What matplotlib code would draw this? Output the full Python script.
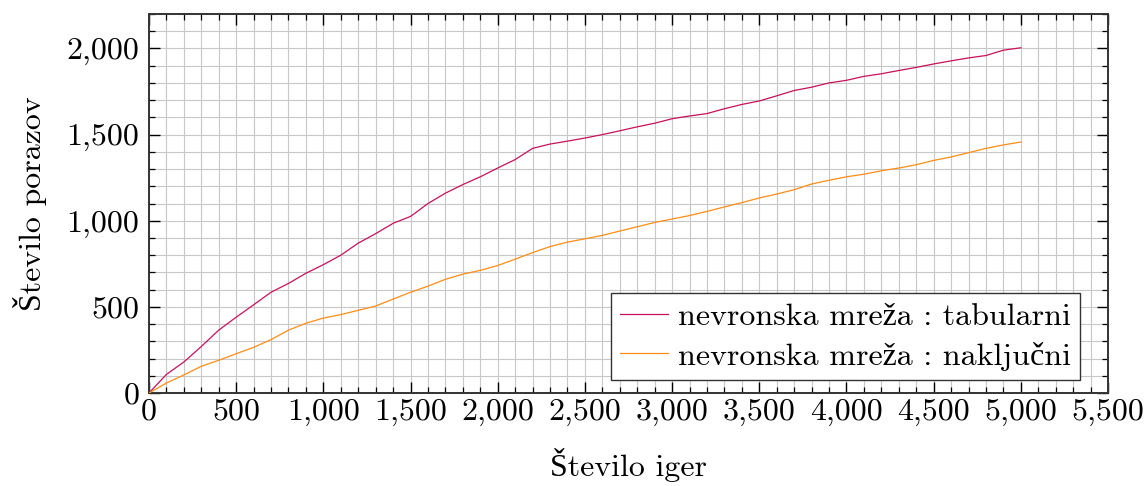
import matplotlib
matplotlib.use("Agg")
import matplotlib.pyplot as plt
from matplotlib.ticker import MultipleLocator, FuncFormatter

plt.rcParams['font.family'] = ['cmr10', 'Liberation Serif', 'DejaVu Serif']
plt.rcParams['mathtext.fontset'] = 'cm'
plt.rcParams['axes.formatter.use_mathtext'] = True

games = list(range(0, 5001, 100))
tabularni = [0, 108, 180, 270, 365, 440, 512, 585, 636, 695,
             745, 800, 870, 925, 985, 1025, 1100, 1160, 1210, 1255,
             1306, 1355, 1420, 1445, 1462, 1480, 1500, 1522, 1545, 1566,
             1592, 1608, 1622, 1650, 1675, 1695, 1725, 1756, 1775, 1800,
             1815, 1838, 1853, 1872, 1890, 1910, 1928, 1945, 1959, 1990,
             2004]
nakljucni = [0, 58, 105, 155, 190, 228, 265, 310, 365, 405,
             435, 455, 480, 505, 545, 585, 620, 660, 690, 712,
             740, 777, 815, 850, 876, 895, 915, 940, 965, 990,
             1010, 1030, 1054, 1080, 1105, 1132, 1155, 1180, 1213, 1235,
             1255, 1270, 1290, 1306, 1325, 1350, 1370, 1395, 1420, 1440,
             1457]
labels = ['nevronska mreža : tabularni',
          'nevronska mreža : naključni']
colors = ['#c8105c', '#ff8c14']

fig = plt.figure(figsize=(11.46, 4.86), dpi=100)
ax = fig.add_axes([149/1146, 1-393/486, 959/1146, 379/486])

ax.plot(games, tabularni, color=colors[0], lw=0.9, label=labels[0], zorder=3)
ax.plot(games, nakljucni, color=colors[1], lw=0.9, label=labels[1], zorder=3)

ax.set_xlim(0, 5500)
ax.set_ylim(0, 2200)
ax.xaxis.set_major_locator(MultipleLocator(500))
ax.xaxis.set_minor_locator(MultipleLocator(100))
ax.yaxis.set_major_locator(MultipleLocator(500))
ax.yaxis.set_minor_locator(MultipleLocator(100))
fmt = FuncFormatter(lambda v, p: f"{int(round(v)):,}")
ax.xaxis.set_major_formatter(fmt)
ax.yaxis.set_major_formatter(fmt)

ax.grid(True, which='both', color='#c8c8c8', lw=0.8, zorder=0)
ax.set_axisbelow(True)
ax.tick_params(which='both', direction='in', top=True, right=True, color='black',
               labelsize=23)
ax.tick_params(which='major', length=8, width=1.0)
ax.tick_params(which='minor', length=4, width=0.9)
ax.tick_params(axis='x', pad=4)
ax.tick_params(axis='y', pad=7)
for s in ax.spines.values():
    s.set_color('#333333')
    s.set_linewidth(1.4)

ax.set_xlabel('Število iger', fontsize=23, labelpad=16)
ax.set_ylabel('Število porazov', fontsize=23, labelpad=14)

leg = ax.legend(loc='lower right', bbox_to_anchor=(0.971, 0.034), borderaxespad=0,
                fontsize=23, frameon=True, fancybox=False, edgecolor='#333333',
                framealpha=1, handlelength=1.5, handletextpad=0.3,
                labelspacing=0.32, borderpad=0.3)
leg.get_frame().set_linewidth(1.0)

fig.savefig('out.png', dpi=100)
